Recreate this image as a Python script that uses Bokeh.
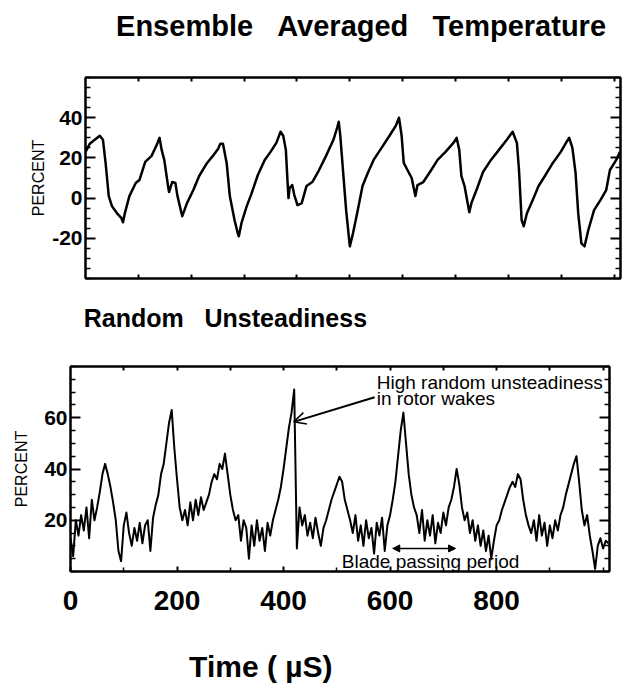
from bokeh.plotting import figure
from bokeh.models import (Range1d, LinearAxis, FixedTicker, Label, Arrow,
                          OpenHead, NormalHead, CustomJSTickFormatter)
from bokeh.embed import file_html
from bokeh.resources import INLINE

FONT = "Liberation Sans"
NB = "\u00a0"

# ---------------- data ----------------
TEMP_TIME = [0, 8, 27, 33, 38, 44, 50, 61, 68, 71, 74, 83, 95, 102, 113, 125, 134, 140, 144, 149,
             155, 158, 164, 170, 174, 183, 192, 204, 215, 230, 241, 251, 255, 260, 267, 273, 282, 288,
             290, 295, 305, 313, 326, 339, 350, 361, 369, 374, 379, 382, 384, 386, 391, 395, 401, 409,
             418, 429, 440, 455, 469, 476, 479, 482, 487, 493, 500, 506, 515, 524, 534, 545, 560, 575,
             587, 593, 598, 602, 609, 617, 624, 628, 639, 654, 666, 681, 696, 702, 707, 711, 717, 726,
             730, 741, 752, 767, 782, 797, 808, 816, 820, 825, 829, 835, 846, 857, 869, 884, 899, 910,
             915, 921, 927, 932, 938, 944, 951, 962, 974, 985, 992, 1004, 1011]
TEMP_PCT = [23, 27, 31, 29, 17.5, 1, -4, -8, -10, -12, -8, 1, 7.5, 9, 18, 21, 26, 30, 24, 19,
            8, 3, 8, 7.5, 1, -9, -2.5, 4, 11, 17.5, 21, 24.5, 27, 27, 17.5, 1, -11, -17.5,
            -19, -12.5, -4, 1.5, 11.5, 19, 23, 27.5, 33, 31, 24, 9, 0, 5, 6.5, 1.5, -3.5, -2.5,
            6, 8, 13, 21, 29, 35, 38, 31, 14, -6, -24, -17.5, -6, 6, 12.5, 19, 25, 31,
            36, 40, 31, 17.5, 14, 10, 1, 6.5, 8, 14, 19, 23, 27.5, 30, 24, 11, 6, -7,
            -2.5, 5, 13, 19, 24, 29, 33, 27.5, 14, -11, -14, -7.5, -1, 6, 11, 17.5, 23, 28,
            30, 25, 12.5, -7.5, -22.5, -24, -16, -6, -1, 4, 14, 19, 23]

RU_TIME = list(range(0, 1015, 5))
RU_PCT = [13, 6, 20, 14, 22, 16, 25, 13, 28, 20,
          25, 31, 38, 42, 38, 33, 27, 20, 8, 4,
          18, 23, 15, 10, 17, 12, 19, 11, 18, 20,
          8, 21, 26, 30, 38, 42, 50, 58, 63, 48,
          36, 25, 20, 24, 18, 27, 20, 28, 22, 29,
          24, 27, 30, 35, 38, 36, 42, 40, 46, 38,
          30, 24, 20, 22, 12, 20, 17, 5, 18, 10,
          20, 12, 17, 8, 19, 14, 20, 24, 28, 33,
          40, 48, 56, 62, 71, 9, 25, 18, 22, 14,
          19, 13, 21, 15, 10, 17, 20, 24, 28, 31,
          34, 37, 35, 28, 24, 20, 15, 22, 12, 18,
          10, 20, 13, 17, 7, 19, 14, 21, 8, 18,
          22, 28, 35, 45, 55, 62, 50, 38, 30, 25,
          22, 15, 24, 12, 20, 14, 22, 11, 19, 15,
          23, 18, 25, 28, 33, 40, 34, 25, 20, 23,
          15, 20, 12, 18, 10, 16, 8, 14, 5, 12,
          18, 20, 24, 27, 30, 33, 35, 33, 38, 36,
          28, 22, 18, 15, 20, 12, 22, 14, 19, 10,
          18, 13, 20, 16, 22, 25, 30, 34, 38, 42,
          45, 35, 24, 18, 22, 14, 8, 1, 10, 13,
          9, 12, 11]

X_LABEL_TICKS = [0, 200, 400, 600, 800]
X_LABELS = ["0", "200", "400", "600", "800"]
X_FRAME_TICKS = [100, 200, 300, 400, 500, 600, 700, 800, 900, 1000]
TEMP_Y_TICKS = [-20, 0, 20, 40]
TEMP_Y_LABELS = ["-20", "0", "20", "40"]
RU_Y_TICKS = [20, 40, 60]
RU_Y_LABELS = ["20", "40", "60"]

# titles; the non-breaking spaces give the wide word gaps and shift the centred
# axis-label text to where the original places it
TITLE_TOP = NB * 2 + (NB * 3).join(["Ensemble", "Averaged", "Temperature"])
TITLE_BOTTOM = (NB * 3).join(["Random", "Unsteadiness"]) + NB * 33
X_TITLE = "Time" + NB + "(" + NB + "\u00b5S)" + NB * 19
Y_TITLE = "PERCENT"
NOTE_WAKE_1 = "High random unsteadiness"
NOTE_WAKE_2 = "in rotor wakes"
NOTE_BLADE = "Blade passing period"

X_RANGE = (0, 1012)
EMPTY = CustomJSTickFormatter(code="return ''")


def frame_axis(ticker, tick_in):
    return LinearAxis(ticker=ticker, formatter=EMPTY,
                      major_tick_in=tick_in, major_tick_out=0,
                      minor_tick_in=0, minor_tick_out=0,
                      major_tick_line_width=2, axis_line_width=2,
                      major_label_standoff=0, major_label_text_font_size="1px")


def title_axis(ticker, text, size, standoff):
    ax = frame_axis(ticker, 4)
    ax.axis_label = text
    ax.axis_label_text_font = FONT
    ax.axis_label_text_font_size = size
    ax.axis_label_text_font_style = "bold"
    ax.axis_label_text_color = "black"
    ax.axis_label_standoff = standoff
    return ax


def y_axis(ticks, labels, lo, hi, standoff, with_labels=True):
    minors = [v for v in range(lo, hi + 1, 5) if v not in ticks]
    ax = LinearAxis(ticker=FixedTicker(ticks=ticks, minor_ticks=minors),
                    major_tick_in=10, major_tick_out=0,
                    minor_tick_in=5, minor_tick_out=0,
                    major_tick_line_width=2, minor_tick_line_width=1.5,
                    axis_line_width=2)
    if with_labels:
        ax.major_label_overrides = dict(zip(ticks, labels))
        ax.major_label_standoff = 3
        ax.major_label_text_font = FONT
        ax.major_label_text_font_size = "21px"
        ax.major_label_text_font_style = "bold"
        ax.major_label_text_color = "black"
        ax.axis_label = Y_TITLE
        ax.axis_label_text_font = FONT
        ax.axis_label_text_font_size = "16px"
        ax.axis_label_text_font_style = "normal"
        ax.axis_label_text_color = "black"
        ax.axis_label_standoff = standoff
    else:
        ax.formatter = EMPTY
        ax.major_label_standoff = 0
        ax.major_label_text_font_size = "1px"
    return ax


def base_fig(height, y_range, left, right, top, bottom):
    p = figure(width=623, height=height, x_range=Range1d(*X_RANGE), y_range=Range1d(*y_range),
               output_backend="svg", toolbar_location=None,
               x_axis_location=None, y_axis_location=None,
               min_border_left=left, min_border_right=right,
               min_border_top=top, min_border_bottom=bottom)
    p.grid.visible = False
    p.outline_line_color = "black"
    p.outline_line_width = 2
    p.background_fill_color = "white"
    p.border_fill_color = "white"
    return p


# ---------------- top panel ----------------
p1 = base_fig(290, (-40, 60), 85, 3, 77, 12)
p1.add_layout(y_axis(TEMP_Y_TICKS, TEMP_Y_LABELS, -40, 60, 2), "left")
p1.add_layout(y_axis(TEMP_Y_TICKS, TEMP_Y_LABELS, -40, 60, 0, with_labels=False), "right")
p1.add_layout(title_axis(FixedTicker(ticks=X_FRAME_TICKS), TITLE_TOP, "29px", 36), "above")
p1.add_layout(frame_axis(FixedTicker(ticks=X_FRAME_TICKS), 4), "below")

p1.line(TEMP_TIME, TEMP_PCT, line_color="black", line_width=2.5, line_join="round")

# ---------------- bottom panel ----------------
p2 = base_fig(396, (0, 80), 70, 14, 76, 115)
p2.add_layout(y_axis(RU_Y_TICKS, RU_Y_LABELS, 0, 80, 11), "left")
p2.add_layout(y_axis(RU_Y_TICKS, RU_Y_LABELS, 0, 80, 0, with_labels=False), "right")
p2.add_layout(title_axis(FixedTicker(ticks=X_FRAME_TICKS), TITLE_BOTTOM, "25px", 35), "above")

xax = LinearAxis(ticker=FixedTicker(ticks=X_LABEL_TICKS,
                                    minor_ticks=[t for t in X_FRAME_TICKS if t not in X_LABEL_TICKS]),
                 major_tick_in=5, major_tick_out=0, minor_tick_in=4, minor_tick_out=0,
                 major_tick_line_width=2, minor_tick_line_width=1.5, axis_line_width=2,
                 major_label_standoff=19,
                 major_label_overrides=dict(zip(X_LABEL_TICKS, X_LABELS)),
                 major_label_text_font=FONT, major_label_text_font_size="28px",
                 major_label_text_font_style="bold", major_label_text_color="black",
                 axis_label=X_TITLE, axis_label_text_font=FONT, axis_label_text_font_size="30px",
                 axis_label_text_font_style="bold", axis_label_text_color="black",
                 axis_label_standoff=37)
p2.add_layout(xax, "below")

p2.line(RU_TIME, RU_PCT, line_color="black", line_width=2, line_join="round")

note_kw = dict(text_font=FONT, text_font_size="19px", text_color="black")
p2.add_layout(Label(x=575, y=78, text=NOTE_WAKE_1, text_baseline="top", text_align="left", **note_kw))
p2.add_layout(Label(x=575, y=71.8, text=NOTE_WAKE_2, text_baseline="top", text_align="left", **note_kw))
p2.add_layout(Arrow(end=OpenHead(size=12, line_width=1.5, line_color="black"),
                    x_start=571, y_start=68, x_end=419, y_end=58.4,
                    line_width=2, line_color="black"))
p2.add_layout(Label(x=676, y=4, text=NOTE_BLADE, text_baseline="alphabetic", text_align="center", **note_kw))
p2.add_layout(Arrow(start=NormalHead(size=7, fill_color="black", line_color="black"),
                    end=NormalHead(size=7, fill_color="black", line_color="black"),
                    x_start=605, y_start=9, x_end=723, y_end=9,
                    line_width=1.5, line_color="black"))

open("out.html", "w").write(file_html([p1, p2], INLINE))
